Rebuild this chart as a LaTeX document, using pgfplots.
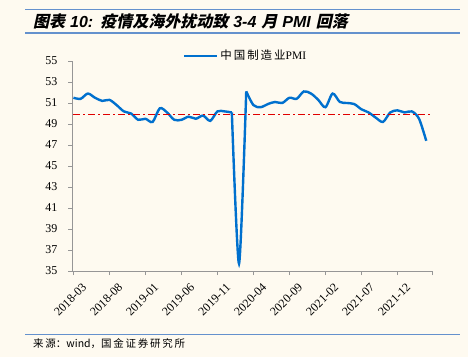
\documentclass[border=0pt]{standalone}
\usepackage{pgfplots}
\pgfplotsset{compat=1.18}
\usepackage{fontspec}
\setmainfont{Liberation Serif}
\newfontfamily\cjk{Noto Sans CJK SC}
\newfontfamily\cjkt[FakeSlant=0.22]{Noto Sans CJK SC}
\newfontfamily\latt{Liberation Sans}
\definecolor{bg}{RGB}{254,250,240}
\definecolor{rule}{RGB}{100,145,205}
\definecolor{pmiblue}{RGB}{0,112,206}
\definecolor{refred}{RGB}{224,0,0}
\definecolor{axgray}{RGB}{150,150,150}
\begin{document}
\begin{tikzpicture}[x=1pt,y=1pt]
\useasboundingbox (0,0) rectangle (468,357);
\fill[bg] (0,0) rectangle (468,357);
\draw[rule,line width=1.6pt] (25,347.5) -- (460,347.5);
\draw[rule,line width=1.6pt] (25,324) -- (460,324);
\node[anchor=west,inner sep=0pt] at (33,336) {\fontsize{16}{16}\selectfont\cjkt\bfseries 图表\hspace{5pt}{\latt\bfseries\itshape 10:}\hspace{7pt}疫情及海外扰动致\hspace{5pt}{\latt\bfseries\itshape 3-4}\hspace{5pt}月\hspace{5pt}{\latt\bfseries\itshape PMI}\hspace{5pt}回落};
\draw[rule,line width=1.3pt] (25,22.3) -- (460,22.3);
\node[anchor=west,inner sep=0pt] at (33,13.5) {\fontsize{10.5}{10.5}\selectfont\cjk 来\,源：wind，国\,金\,证\,券\,研\,究\,所};
\begin{axis}[
  at={(72pt,86pt)}, anchor=south west,
  width=360pt, height=210pt, scale only axis,
  xmin=-0.2, xmax=49.8, ymin=35, ymax=55,
  axis lines*=left,
  axis line style={axgray, line width=0.8pt},
  tick style={axgray, line width=0.8pt},
  tick align=outside,
  major tick length=4pt,
  ytick={35,37,...,55},
  xtick={0,5,...,45},
  xticklabels={2018-03,2018-08,2019-01,2019-06,2019-11,2020-04,2020-09,2021-02,2021-07,2021-12},
  extra x ticks={49.8}, extra x tick labels={},
  /pgf/number format/assume math mode=true,
  yticklabel style={font=\fontsize{12}{12}\selectfont, xshift=-7pt},
  xticklabel style={font=\fontsize{12}{12}\selectfont, rotate=45, anchor=north east, inner sep=1pt, xshift=1.5pt, yshift=-10pt},
  legend style={at={(0.308,1.025)}, anchor=west, draw=none, fill=none, font=\fontsize{11.5}{11.5}\selectfont, inner sep=0pt},
  legend image code/.code={\draw[#1] (0pt,0pt) -- (33pt,0pt);},
  clip=false,
]
\addplot[pmiblue, line width=2.4pt, smooth, tension=0.5] coordinates {
(0,51.5)(1,51.4)(2,51.9)(3,51.5)(4,51.2)(5,51.3)(6,50.8)(7,50.2)(8,50.0)(9,49.4)
(10,49.5)(11,49.2)(12,50.5)(13,50.1)(14,49.4)(15,49.4)(16,49.7)(17,49.5)(18,49.8)(19,49.3)
(20,50.2)(21,50.2)(22,50.1)
};
\addlegendentry{\cjk 中\,国\,制\,造\,业\rmfamily PMI}
\addplot[pmiblue, line width=2.4pt, smooth, tension=0.45, forget plot] coordinates {
(22,50.1)(23,35.7)(24,52.1)
};
\addplot[pmiblue, line width=2.4pt, smooth, tension=0.5, forget plot] coordinates {
(24,52.1)(25,50.8)(26,50.6)(27,50.9)(28,51.1)(29,51.0)
(30,51.5)(31,51.4)(32,52.1)(33,51.9)(34,51.3)(35,50.6)(36,51.9)(37,51.1)(38,51.0)(39,50.9)
(40,50.4)(41,50.1)(42,49.6)(43,49.2)(44,50.1)(45,50.3)(46,50.1)(47,50.2)(48,49.5)(49,47.4)
};
\addplot[refred, line width=1.5pt, dash pattern=on 7pt off 3pt on 2pt off 3pt, forget plot] coordinates {(0,49.9)(49.6,49.9)};
\end{axis}
\end{tikzpicture}
\end{document}
